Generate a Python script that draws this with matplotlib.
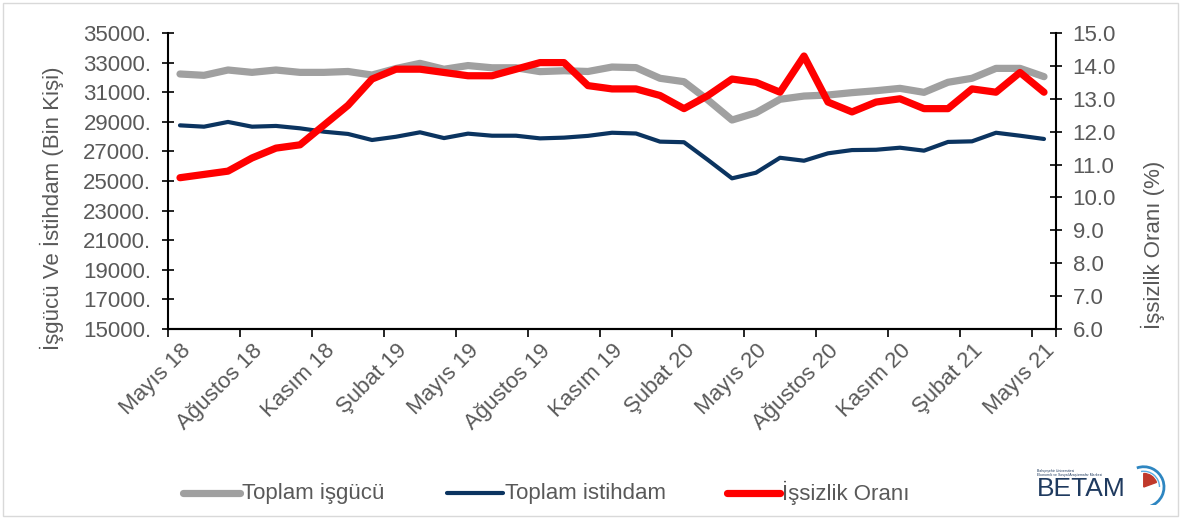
import matplotlib
matplotlib.use("Agg")
import matplotlib.pyplot as plt
from matplotlib.lines import Line2D
from matplotlib.patches import Rectangle, Arc, Wedge

plt.rcParams['font.family'] = ['Liberation Sans', 'DejaVu Sans']

months = list(range(37))
tick_labels = ["Mayıs 18", "Ağustos 18", "Kasım 18", "Şubat 19", "Mayıs 19", "Ağustos 19",
               "Kasım 19", "Şubat 20", "Mayıs 20", "Ağustos 20", "Kasım 20", "Şubat 21", "Mayıs 21"]

isgucu = [32230, 32140, 32500, 32340, 32500, 32340, 32340, 32400, 32160, 32600,
          32950, 32550, 32800, 32650, 32650, 32390, 32450, 32400, 32700, 32660,
          31940, 31710, 30470, 29120, 29610, 30520, 30740, 30810, 30970, 31100,
          31260, 30990, 31670, 31940, 32610, 32610, 32050]

istihdam = [28760, 28670, 28990, 28670, 28720, 28560, 28330, 28180, 27770, 27990,
            28290, 27900, 28200, 28060, 28060, 27880, 27930, 28050, 28260, 28210,
            27660, 27620, 26420, 25180, 25560, 26570, 26370, 26870, 27090, 27110,
            27250, 27050, 27640, 27680, 28260, 28060, 27840]

issizlik = [10.6, 10.7, 10.8, 11.2, 11.5, 11.6, 12.2, 12.8, 13.6, 13.9,
            13.9, 13.8, 13.7, 13.7, 13.9, 14.1, 14.1, 13.4, 13.3, 13.3,
            13.1, 12.7, 13.1, 13.6, 13.5, 13.2, 14.3, 12.9, 12.6, 12.9,
            13.0, 12.7, 12.7, 13.3, 13.2, 13.8, 13.2]

legend_labels = ["Toplam işgücü", "Toplam istihdam", "İşsizlik Oranı"]

GRAY = '#A0A0A0'
NAVY = '#0B3460'
RED = '#FF0000'
TXT = '#595959'
FS = 16

W, H = 1181, 519
fig = plt.figure(figsize=(W/100, H/100), dpi=100)
ax = fig.add_axes([168/W, 1-329/H, (1056-168)/W, (329-33)/H])
ax2 = ax.twinx()

ax.plot(months, isgucu, color=GRAY, lw=5.2, solid_capstyle='round', solid_joinstyle='round')
ax.plot(months, istihdam, color=NAVY, lw=3.0, solid_capstyle='round', solid_joinstyle='round')
ax2.plot(months, issizlik, color=RED, lw=5.2, solid_capstyle='round', solid_joinstyle='round')

ax.set_xlim(-0.5, 36.5)
ax.set_ylim(15000, 35000)
ax2.set_ylim(6.0, 15.0)

lticks = list(range(15000, 35001, 2000))
ax.set_yticks(lticks)
ax.set_yticklabels([f"{v}." for v in lticks])
rticks = [6.0 + i for i in range(10)]
ax2.set_yticks(rticks)
ax2.set_yticklabels([f"{v:.1f}" for v in rticks])

ax.set_xticks([i - 0.5 for i in range(0, 37, 3)] + [36.5])
ax.set_xticklabels([])
ax.set_xticks(list(range(0, 37, 3)), minor=True)
ax.set_xticklabels(tick_labels, minor=True, rotation=45, ha='right', rotation_mode='anchor',
                   fontsize=FS, color=TXT)
ax.tick_params(axis='x', which='minor', length=0, pad=8)
ax.tick_params(axis='x', which='major', length=6, width=1.2, direction='out', color='black')

ax.tick_params(axis='y', direction='inout', length=8, width=1.2, labelsize=FS, labelcolor=TXT, pad=8)
ax2.tick_params(axis='y', direction='inout', length=8, width=1.2, labelsize=FS, labelcolor=TXT, pad=8)

for a in (ax, ax2):
    a.spines['top'].set_visible(False)
    for s in ('left', 'right', 'bottom'):
        a.spines[s].set_linewidth(1.5)
        a.spines[s].set_color('black')
ax2.spines['left'].set_visible(False)
ax.spines['right'].set_visible(False)

ax.set_ylabel("İşgücü Ve İstihdam (Bin Kişi)", fontsize=FS, color=TXT)
ax.yaxis.set_label_coords(-(168-64)/888, 1-(208-33)/296)
ax2.set_ylabel("İşsizlik Oranı (%)", fontsize=FS, color=TXT)
ax2.yaxis.set_label_coords(1+(1141-1056)/888, 1-(245-33)/296)

# legend drawn in figure space
legend_pos = [(183, 240, 242, GRAY, 5.2), (447, 503, 505, NAVY, 3.0), (727, 780, 782, RED, 5.2)]
for (x0, x1, xt, c, lw), lab in zip(legend_pos, legend_labels):
    fig.add_artist(Line2D([x0/W, x1/W], [1-493/H, 1-493/H], transform=fig.transFigure,
                          color=c, lw=lw, solid_capstyle='round'))
    fig.text(xt/W, 1-493/H, lab, fontsize=FS, color=TXT, va='center', ha='left')

# figure frame
fig.patches.append(Rectangle((3/W, 3/H), 1-6/W, 1-6/H, transform=fig.transFigure,
                             fill=False, edgecolor='#D9D9D9', lw=1.0))

# BETAM logo
fig.text(1037/W, 1-489/H, "BETAM", fontsize=19, color='#1F3A5F', va='center', ha='left')
fig.text(1037/W, 1-473/H, "Bahçeşehir Üniversitesi\nEkonomik ve Sosyal Araştırmalar Merkezi",
         fontsize=2.5, color='#1F3A5F', va='center', ha='left')
lax = fig.add_axes([1128/W, 1-505/H, 45/W, 45/H])
lax.set_xlim(0, 1); lax.set_ylim(0, 1); lax.axis('off')
lax.add_patch(Arc((0.35, 0.4), 0.9, 0.9, theta1=-70, theta2=110, color='#2E86C1', lw=2))
lax.add_patch(Arc((0.35, 0.4), 0.7, 0.7, theta1=0, theta2=100, color='#5DADE2', lw=1))
lax.add_patch(Wedge((0.35, 0.4), 0.3, 20, 90, color='#C0392B'))

fig.savefig("out.png", dpi=100)
